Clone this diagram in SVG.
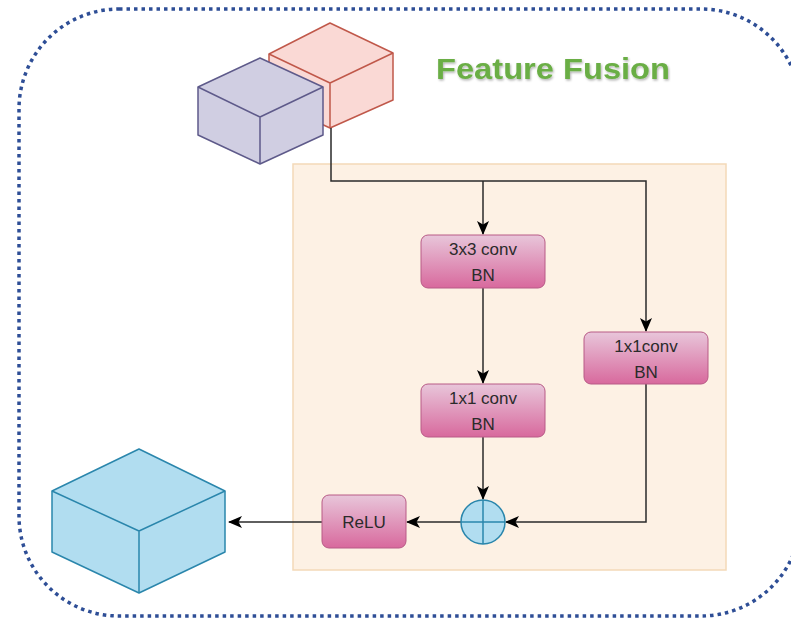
<svg xmlns="http://www.w3.org/2000/svg" width="791" height="620" viewBox="0 0 791 620">
  <defs>
    <linearGradient id="boxGrad" x1="0" y1="0" x2="0" y2="1">
      <stop offset="0" stop-color="#E8C6DA"/>
      <stop offset="1" stop-color="#D8699D"/>
    </linearGradient>
    <marker id="arrow" viewBox="0 0 14 12" refX="13" refY="6" markerWidth="14" markerHeight="12" markerUnits="userSpaceOnUse" orient="auto">
      <path d="M0,0 L14,6 L0,12 L3.5,6 Z" fill="#000"/>
    </marker>
    <filter id="titleShadow" x="-5%" y="-20%" width="110%" height="140%">
      <feDropShadow dx="1" dy="1.5" stdDeviation="0.8" flood-color="#000" flood-opacity="0.3"/>
    </filter>
  </defs>
  <style>
    .box { fill: url(#boxGrad); stroke: #B85A86; stroke-width: 1; }
    .label { font-family: "Liberation Sans", Arial, sans-serif; font-size: 17px; fill: #2b2b2b; text-anchor: middle; }
    .wire { fill: none; stroke: #2a2a2a; stroke-width: 1.5; }
    .cube { stroke-width: 1.5; stroke-linejoin: round; }
  </style>

  <rect width="791" height="620" fill="#fff"/>

  <!-- dotted boundary of the fusion module -->
  <rect id="boundary" x="19" y="9" width="782" height="607" rx="100" ry="100" fill="none" stroke="#2E4E96" stroke-width="3.5" stroke-dasharray="3.5 4"/>

  <!-- title -->
  <text id="title" x="436" y="79" font-family="Liberation Sans, Arial, sans-serif" font-weight="bold" font-size="30" fill="#6AAE45" textLength="234" lengthAdjust="spacingAndGlyphs" filter="url(#titleShadow)">Feature Fusion</text>

  <!-- block panel -->
  <rect id="panel" x="293" y="164" width="433" height="406" fill="#FDF1E4" stroke="#F3D9B8" stroke-width="1.5"/>

  <!-- input feature cubes -->
  <g id="cube-red" class="cube" fill="#FAD9D5" stroke="#C0584A">
    <path d="M330,23 L393,53 L393,100 L330,128 L269,100 L269,54 Z"/>
    <path d="M269,54 L330,83 L393,53 M330,83 L330,128" fill="none"/>
  </g>
  <g id="cube-purple" class="cube" fill="#D0CEE2" stroke="#5E5A8A">
    <path d="M260,58 L323,87 L323,135 L260,164 L198,135 L198,87 Z"/>
    <path d="M198,87 L260,117 L323,87 M260,117 L260,164" fill="none"/>
  </g>

  <!-- output feature cube -->
  <g id="cube-out" class="cube" fill="#B1DDF0" stroke="#2A86AC">
    <path d="M139,449 L225,491 L225,552 L139,593 L52,552 L52,491 Z"/>
    <path d="M52,491 L139,531 L225,491 M139,531 L139,593" fill="none"/>
  </g>

  <!-- connectors -->
  <g id="connectors">
    <path class="wire" d="M331,128 L331,181 L646,181 L646,331" marker-end="url(#arrow)"/>
    <path class="wire" d="M483,181 L483,234" marker-end="url(#arrow)"/>
    <path class="wire" d="M483,288 L483,383" marker-end="url(#arrow)"/>
    <path class="wire" d="M483,437 L483,499" marker-end="url(#arrow)"/>
    <path class="wire" d="M646,384 L646,522 L506,522" marker-end="url(#arrow)"/>
    <path class="wire" d="M461,522 L407,522" marker-end="url(#arrow)"/>
    <path class="wire" d="M322,522 L229,522" marker-end="url(#arrow)"/>
  </g>

  <!-- operation nodes -->
  <g id="conv3x3">
    <rect class="box" x="421" y="235" width="124" height="53" rx="7"/>
    <text class="label" x="483" y="255">3x3 conv</text>
    <text class="label" x="483" y="281">BN</text>
  </g>
  <g id="conv1x1-main">
    <rect class="box" x="421" y="384" width="124" height="53" rx="7"/>
    <text class="label" x="483" y="404">1x1 conv</text>
    <text class="label" x="483" y="430">BN</text>
  </g>
  <g id="conv1x1-side">
    <rect class="box" x="584" y="332" width="124" height="52" rx="7"/>
    <text class="label" x="646" y="352">1x1conv</text>
    <text class="label" x="646" y="378">BN</text>
  </g>
  <g id="relu">
    <rect class="box" x="322" y="495" width="84" height="53" rx="7"/>
    <text class="label" x="364" y="528">ReLU</text>
  </g>
  <g id="sum">
    <circle cx="483" cy="522" r="22" fill="#B1DDF0" stroke="#2A86AC" stroke-width="1.5"/>
    <path d="M461,522 L505,522 M483,500 L483,544" stroke="#2A86AC" stroke-width="1.5"/>
  </g>
</svg>
